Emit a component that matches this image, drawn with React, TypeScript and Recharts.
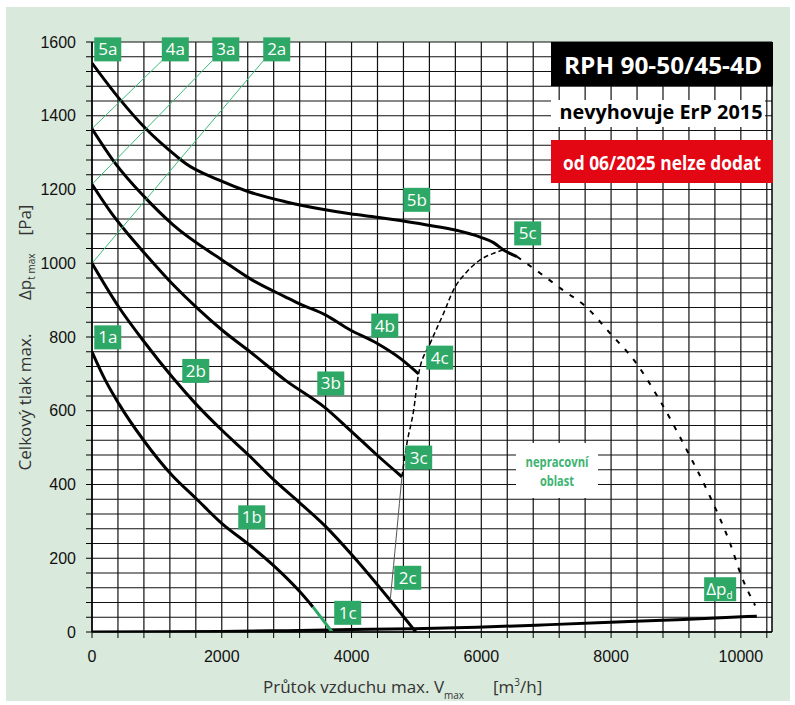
import React from 'react';
import { ComposedChart, Line, XAxis, YAxis, ReferenceLine, ReferenceArea, ReferenceDot } from 'recharts';

// flow [m3/h], total pressure [Pa]
const curve1 = [[0, 760], [205, 683], [410, 620], [795, 520], [1233, 425], [1592, 364], [2003, 294], [2413, 238], [2824, 176], [3184, 113], [3405, 68]];
const curve1c = [[3405, 68], [3700, 0]];
const curve2 = [[0, 1000], [410, 882], [821, 783], [1233, 692], [1592, 620], [2003, 547], [2413, 480], [2824, 409], [3184, 353], [3595, 287], [4031, 204], [4596, 86], [4990, 0]];
const curve3 = [[0, 1214], [283, 1140], [513, 1088], [821, 1025], [1233, 945], [1643, 875], [2003, 819], [2465, 756], [2978, 683], [3595, 608], [3980, 547], [4391, 480], [4776, 421]];
const curve4 = [[0, 1365], [359, 1271], [808, 1180], [1245, 1105], [2003, 1009], [2465, 955], [2978, 909], [3210, 889], [3595, 860], [3980, 819], [4391, 783], [4750, 742], [5033, 700]];
const curve5 = [[0, 1543], [436, 1443], [823, 1366], [1310, 1289], [1438, 1271], [1951, 1226], [2413, 1194], [2978, 1167], [3595, 1145], [3980, 1134], [4391, 1125], [4750, 1116], [5162, 1104], [5598, 1090], [5983, 1071], [6188, 1056], [6342, 1036], [6549, 1018]];
const limitLow = [[4596, 86], [4699, 276], [4776, 421]];
const limitMid = [[4776, 421], [4853, 511], [4956, 600], [5033, 700], [5213, 783], [5418, 864], [5572, 928], [5778, 977], [5983, 1009], [6188, 1027], [6342, 1036]];
const limitRight = [[6549, 1018], [6908, 973], [7267, 926], [7601, 884], [7986, 810], [8371, 733], [8731, 634], [9168, 493], [9501, 376], [9835, 240], [10015, 149], [10220, 72]];
const dynPressure = [[0, 0], [2000, 1.6], [3000, 3.7], [4000, 6.5], [4955, 9], [5932, 13], [7062, 20], [8089, 27], [9116, 34], [10246, 43]];
const line2a = [[0, 1000], [2645, 1550]];
const line3a = [[0, 1214], [1858, 1550]];
const line4a = [[0, 1365], [1083, 1550]];

const xLabels = [0, 2000, 4000, 6000, 8000, 10000];
const yLabels = [0, 200, 400, 600, 800, 1000, 1200, 1400, 1600];
const X_MAX = 10480;
const gridX = Array.from({ length: 27 }, (_, i) => i * 400);
const gridY = Array.from({ length: 41 }, (_, i) => i * 40);

const tags = [
  { t: '5a', q: 243, p: 1580 }, { t: '4a', q: 1284, p: 1580 }, { t: '3a', q: 2062, p: 1580 }, { t: '2a', q: 2847, p: 1580 },
  { t: '5b', q: 5005, p: 1172 }, { t: '5c', q: 6715, p: 1081 }, { t: '1a', q: 243, p: 799 }, { t: '2b', q: 1599, p: 708 },
  { t: '3b', q: 3680, p: 674 }, { t: '4b', q: 4512, p: 831 }, { t: '4c', q: 5359, p: 744 }, { t: '3c', q: 5035, p: 473 },
  { t: '1b', q: 2462, p: 311 }, { t: '1c', q: 3941, p: 52 }, { t: '2c', q: 4866, p: 147 }, { t: 'dpd', q: 9681, p: 116 },
];

const toPts = (a: number[][]) => a.map(([q, p]) => ({ q, p }));

const GREEN = '#2ea866';
const FONT = '"Liberation Sans", Arial, sans-serif';
const LFONT = '"Open Sans", "Noto Sans", sans-serif';

function Tag(props: any) {
  const { cx, cy, t } = props;
  const wide = t === 'dpd';
  const w = wide ? 32 : 27;
  return (
    <g>
      <rect x={cx - w / 2} y={cy - 12} width={w} height={24} fill={GREEN} />
      {wide ? (
        <text x={cx - 14} y={cy + 6} fill="#fff" fontFamily={LFONT} fontSize={17}>
          Δp<tspan fontSize={10} dy={4}>d</tspan>
        </text>
      ) : (
        <text x={cx} y={cy + 6} textAnchor="middle" fill="#fff" fontFamily={LFONT} fontSize={17}>{t}</text>
      )}
    </g>
  );
}

export default function App() {
  const series = [
    { d: curve1, c: '#000', w: 3 },
    { d: curve2, c: '#000', w: 3 },
    { d: curve3, c: '#000', w: 3 },
    { d: curve4, c: '#000', w: 3 },
    { d: curve5, c: '#000', w: 3 },
    { d: dynPressure, c: '#000', w: 3 },
    { d: curve1c, c: GREEN, w: 3 },
    { d: line2a, c: '#3dbb77', w: 1 },
    { d: line3a, c: '#3dbb77', w: 1 },
    { d: line4a, c: '#3dbb77', w: 1 },
    { d: limitLow, c: '#555', w: 1 },
    { d: limitMid, c: '#000', w: 1.5, dash: '5 3' },
    { d: limitRight, c: '#000', w: 2, dash: '5 8' },
  ];
  return (
    <div style={{ position: 'relative', width: 795, height: 705, background: '#fff' }}>
      <style>{'body{margin:0}'}</style>
      <div style={{ position: 'absolute', left: 6, top: 7, width: 784, height: 694, background: '#d9e9dc' }} />
      <div style={{ position: 'absolute', left: 0, top: 0 }}>
        <ComposedChart width={795} height={705} margin={{ top: 42, right: 23, bottom: 23, left: 32 }}>
          <XAxis
            dataKey="q" type="number" domain={[0, X_MAX]} ticks={gridX} allowDataOverflow
            tickFormatter={(v: number) => (xLabels.includes(v) ? String(v) : '')}
            tick={{ fill: '#111', fontSize: 16, fontFamily: FONT }}
            tickSize={6} tickMargin={13} height={50}
            axisLine={{ stroke: '#000', strokeWidth: 1.5 }} tickLine={{ stroke: '#000' }}
          />
          <YAxis
            dataKey="p" type="number" domain={[0, 1600]} ticks={gridY} allowDataOverflow interval={0}
            tickFormatter={(v: number) => (yLabels.includes(v) ? String(v) : '')}
            tick={{ fill: '#111', fontSize: 16, fontFamily: FONT }}
            tickSize={6} tickMargin={10} width={60}
            axisLine={{ stroke: '#000', strokeWidth: 1.5 }} tickLine={{ stroke: '#000' }}
          />
          <ReferenceArea x1={0} x2={X_MAX} y1={0} y2={1600} fill="#fff" fillOpacity={1} stroke="none" />
          {gridX.map((x) => (
            <ReferenceLine key={'gx' + x} x={x} stroke="#111" strokeWidth={1.2} />
          ))}
          {gridY.map((y) => (
            <ReferenceLine key={'gy' + y} y={y} stroke="#111" strokeWidth={1.2} />
          ))}
          <ReferenceLine x={X_MAX} stroke="#000" strokeWidth={1.5} />
          {series.map((s, i) => (
            <Line
              key={i} data={toPts(s.d)} dataKey="p" type="monotone" stroke={s.c} strokeWidth={s.w}
              strokeDasharray={s.dash} dot={false} isAnimationActive={false}
            />
          ))}
          {tags.map((g) => (
            <ReferenceDot key={g.t} x={g.q} y={g.p} r={1} ifOverflow="visible" shape={(p: any) => <Tag {...p} t={g.t} />} />
          ))}
        </ComposedChart>
      </div>
      <svg width={795} height={705} style={{ position: 'absolute', left: 0, top: 0, pointerEvents: 'none' }}>
        <rect x={551} y={42} width={222} height={44} fill="#000" />
        <text x={663} y={74} textAnchor="middle" fill="#fff" fontFamily={LFONT} fontWeight={700} fontSize={23} textLength={198} lengthAdjust="spacingAndGlyphs">RPH 90-50/45-4D</text>
        <rect x={551} y={100} width={214} height={27} fill="#fff" />
        <text x={661} y={119} textAnchor="middle" fill="#000" fontFamily={LFONT} fontWeight={700} fontSize={20} textLength={203} lengthAdjust="spacingAndGlyphs">nevyhovuje ErP 2015</text>
        <rect x={551} y={140} width={222} height={43} fill="#e30613" />
        <text x={662} y={170} textAnchor="middle" fill="#fff" fontFamily={LFONT} fontWeight={700} fontSize={19} textLength={198} lengthAdjust="spacingAndGlyphs">od 06/2025 nelze dodat</text>
        <rect x={516} y={443} width={82} height={55} fill="#fff" />
        <text x={557} y={467} textAnchor="middle" fill="#3cb371" fontFamily={LFONT} fontWeight={700} fontSize={15} textLength={63} lengthAdjust="spacingAndGlyphs">nepracovní</text>
        <text x={557} y={486} textAnchor="middle" fill="#3cb371" fontFamily={LFONT} fontWeight={700} fontSize={15} textLength={34} lengthAdjust="spacingAndGlyphs">oblast</text>

        <text transform="translate(31,402) rotate(-90)" textAnchor="middle" fill="#333" fontFamily={LFONT} fontSize={17}>Celkový tlak max.</text>
        <text transform="translate(31,300) rotate(-90)" fill="#333" fontFamily={LFONT} fontSize={17}>
          Δp<tspan fontSize={10} dy={4}>t max</tspan>
        </text>
        <text transform="translate(31,220) rotate(-90)" textAnchor="middle" fill="#333" fontFamily={LFONT} fontSize={17}>[Pa]</text>

        <text x={263} y={693} fill="#333" fontFamily={LFONT} fontSize={17}>
          Průtok vzduchu max. V<tspan fontSize={10} dy={6}>max</tspan>
        </text>
        <text x={493} y={693} fill="#333" fontFamily={LFONT} fontSize={17}>
          [m<tspan fontSize={10} dy={-7}>3</tspan><tspan dy={7}>/h]</tspan>
        </text>
      </svg>
    </div>
  );
}
